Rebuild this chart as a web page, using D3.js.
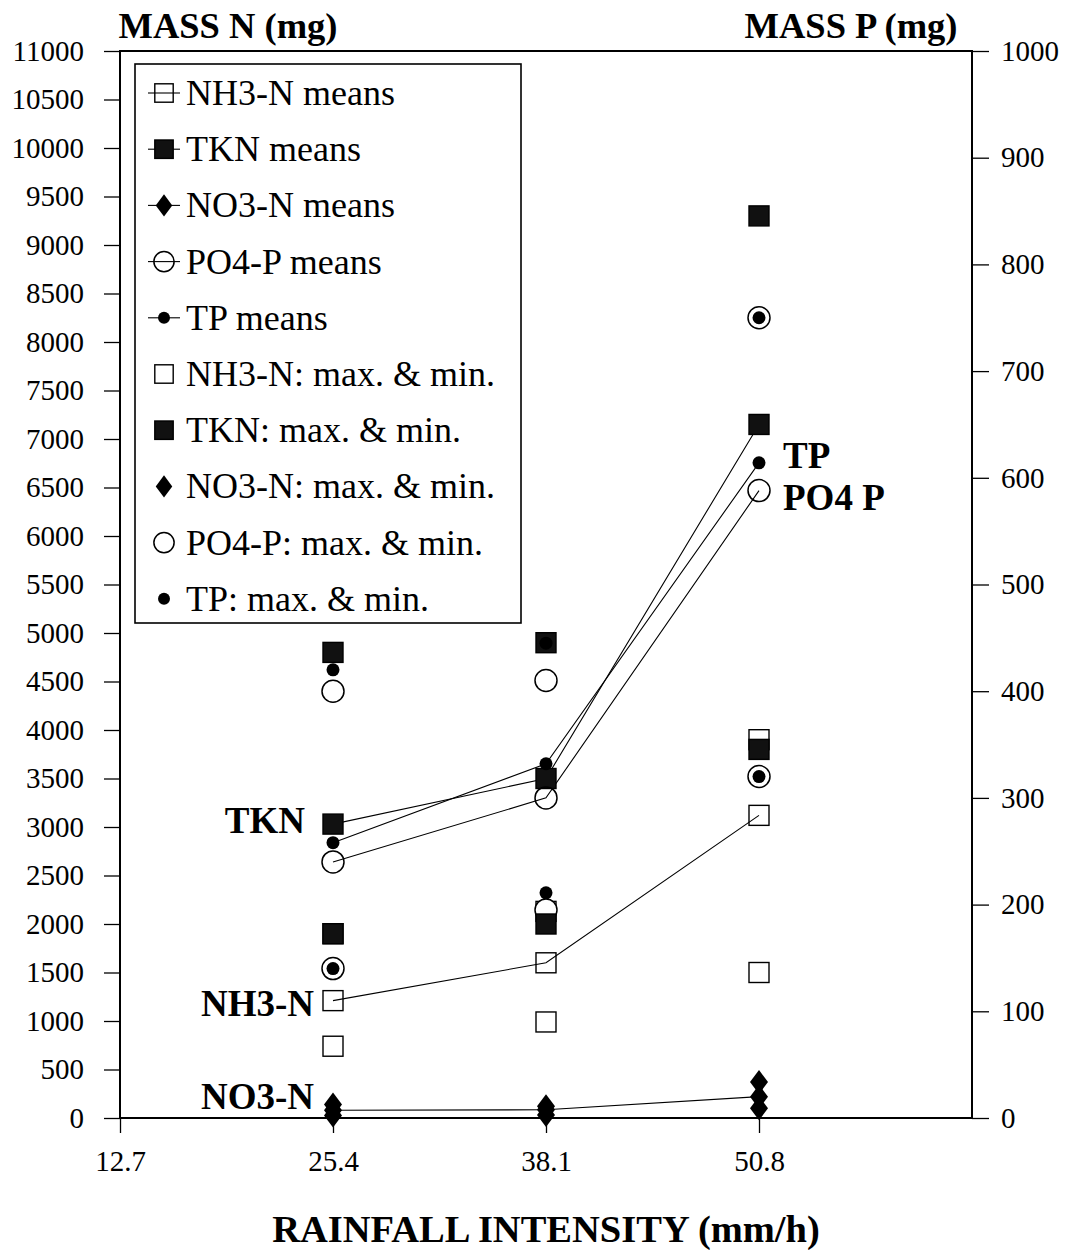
<!DOCTYPE html>
<html>
<head>
<meta charset="utf-8">
<script src="https://cdn.jsdelivr.net/npm/d3@7"></script>
<style>
  body { margin: 0; background: #fff; }
  svg { display: block; }
  text { font-family: "Liberation Serif", "Times New Roman", serif; fill: #000; }
</style>
</head>
<body>
<script>
// Rainfall intensities (mm/h) and axis ticks
const intensities = [25.4, 38.1, 50.8];
const xTicks = [12.7, 25.4, 38.1, 50.8];
const nTicks = d3.range(0, 11001, 500);
const pTicks = d3.range(0, 1001, 100);

// Nitrogen loads (mg), left axis
const nh3Mean = [1210, 1600, 3120];
const nh3Max  = [1900, 2130, 3900];
const nh3Min  = [740, 990, 1500];
const tknMean = [3030, 3500, 7150];
const tknMax  = [4800, 4900, 9300];
const tknMin  = [1900, 2000, 3800];
const no3Mean = [80, 85, 220];
const no3Max  = [140, 120, 370];
const no3Min  = [25, 30, 100];

// Phosphorus loads (mg), right axis
const po4Mean = [240, 300, 588];
const po4Max  = [400, 410, 750];
const po4Min  = [140, 195, 320];
const tpMean  = [258, 332, 614];
const tpMax   = [420, 445, 750];
const tpMin   = [140, 211, 320];

// Legend entries
const legendLabels = [
  "NH3-N means", "TKN means", "NO3-N means", "PO4-P means", "TP means",
  "NH3-N: max. & min.", "TKN: max. & min.", "NO3-N: max. & min.",
  "PO4-P: max. & min.", "TP: max. & min."
];
const legendShapes = ["sqOpen", "sqFill", "diamond", "circOpen", "dot",
                      "sqWhite", "sqFill", "diamond", "circWhite", "dot"];
const legendHasLine = [true, true, true, true, true, false, false, false, false, false];

const W = 1065, H = 1250;
const plotLeft = 120, plotRight = 972, plotTop = 51, plotBottom = 1118;

const svg = d3.select("body").append("svg").attr("width", W).attr("height", H);

const x = d3.scaleLinear().domain([12.7, 63.5]).range([plotLeft, plotRight]);
const yN = d3.scaleLinear().domain([0, 11000]).range([plotBottom, plotTop]);
const yP = d3.scaleLinear().domain([0, 1000]).range([plotBottom, plotTop]);

// Axes
const axisFont = "29px";
const gL = svg.append("g").attr("transform", `translate(${plotLeft},0)`)
  .call(d3.axisLeft(yN).tickValues(nTicks).tickFormat(d3.format("d"))
        .tickSize(16).tickPadding(20).tickSizeOuter(0));
const gR = svg.append("g").attr("transform", `translate(${plotRight},0)`)
  .call(d3.axisRight(yP).tickValues(pTicks).tickFormat(d3.format("d"))
        .tickSize(17).tickPadding(12).tickSizeOuter(0));
const gB = svg.append("g").attr("transform", `translate(0,${plotBottom})`)
  .call(d3.axisBottom(x).tickValues(xTicks).tickFormat(d3.format(".1f"))
        .tickSize(15).tickPadding(17).tickSizeOuter(0));
[gL, gR, gB].forEach(g => {
  g.select(".domain").remove();
  g.selectAll(".tick line").attr("stroke", "#000").attr("stroke-width", 1.3);
  g.selectAll(".tick text").style("font-size", axisFont)
    .style("font-family", "'Liberation Serif', serif").attr("fill", "#000");
});

// Plot frame
svg.append("rect").attr("x", plotLeft).attr("y", plotTop)
  .attr("width", plotRight - plotLeft).attr("height", plotBottom - plotTop)
  .attr("fill", "none").attr("stroke", "#000").attr("stroke-width", 2);

// Marker drawing
function marker(g, shape, cx, cy, scale = 1) {
  const s = 10 * scale;
  if (shape === "sqOpen" || shape === "sqWhite" || shape === "sqFill") {
    g.append("rect").attr("x", cx - s).attr("y", cy - s).attr("width", 2 * s).attr("height", 2 * s)
      .attr("fill", shape === "sqFill" ? "#111" : (shape === "sqWhite" ? "#fff" : "none"))
      .attr("stroke", "#000").attr("stroke-width", 1.4);
  } else if (shape === "circOpen" || shape === "circWhite") {
    g.append("circle").attr("cx", cx).attr("cy", cy).attr("r", 11 * scale)
      .attr("fill", shape === "circWhite" ? "#fff" : "none")
      .attr("stroke", "#000").attr("stroke-width", 1.5);
  } else if (shape === "dot") {
    g.append("circle").attr("cx", cx).attr("cy", cy).attr("r", 6.5 * scale).attr("fill", "#000");
  } else if (shape === "diamond") {
    const hw = 9 * scale, hh = 12 * scale;
    g.append("path")
      .attr("d", `M${cx},${cy - hh}L${cx + hw},${cy}L${cx},${cy + hh}L${cx - hw},${cy}Z`)
      .attr("fill", "#000");
  }
}

const plot = svg.append("g");

// Mean lines
const lineN = d3.line().x((d, i) => x(intensities[i])).y(d => yN(d));
const lineP = d3.line().x((d, i) => x(intensities[i])).y(d => yP(d));
[[nh3Mean, lineN], [tknMean, lineN], [no3Mean, lineN], [po4Mean, lineP], [tpMean, lineP]]
  .forEach(([vals, ln]) => {
    plot.append("path").datum(vals).attr("d", ln)
      .attr("fill", "none").attr("stroke", "#000").attr("stroke-width", 1.1);
  });

// Max & min markers
function drawSet(vals, scale, shape) {
  vals.forEach((v, i) => marker(plot, shape, x(intensities[i]), scale(v)));
}
[nh3Max, nh3Min].forEach(v => drawSet(v, yN, "sqWhite"));
[po4Max, po4Min].forEach(v => drawSet(v, yP, "circWhite"));
[tknMax, tknMin].forEach(v => drawSet(v, yN, "sqFill"));
[tpMax, tpMin].forEach(v => drawSet(v, yP, "dot"));
[no3Max, no3Min].forEach(v => drawSet(v, yN, "diamond"));

// Mean markers
drawSet(nh3Mean, yN, "sqOpen");
drawSet(tknMean, yN, "sqFill");
drawSet(no3Mean, yN, "diamond");
drawSet(po4Mean, yP, "circOpen");
drawSet(tpMean, yP, "dot");

// Series annotations
const ann = [
  { t: "TKN", x: 305, y: 833, a: "end" },
  { t: "NH3-N", x: 314, y: 1016, a: "end" },
  { t: "NO3-N", x: 314, y: 1109, a: "end" },
  { t: "TP", x: 783, y: 468, a: "start" },
  { t: "PO4 P", x: 783, y: 510, a: "start" }
];
svg.selectAll("text.ann").data(ann).join("text").attr("class", "ann")
  .attr("x", d => d.x).attr("y", d => d.y).attr("text-anchor", d => d.a)
  .style("font-size", "37px").style("font-weight", "bold").text(d => d.t);

// Axis titles
svg.append("text").attr("x", 228).attr("y", 38).attr("text-anchor", "middle")
  .style("font-size", "36.5px").style("font-weight", "bold").text("MASS N (mg)");
svg.append("text").attr("x", 851).attr("y", 38).attr("text-anchor", "middle")
  .style("font-size", "36.5px").style("font-weight", "bold").text("MASS P (mg)");
svg.append("text").attr("x", 546).attr("y", 1242).attr("text-anchor", "middle")
  .style("font-size", "38.5px").style("font-weight", "bold").text("RAINFALL INTENSITY (mm/h)");

// Legend
const lg = svg.append("g");
lg.append("rect").attr("x", 135).attr("y", 64).attr("width", 386).attr("height", 559)
  .attr("fill", "#fff").attr("stroke", "#000").attr("stroke-width", 1.6);
legendLabels.forEach((lab, i) => {
  const cy = 93 + i * 56.2;
  if (legendHasLine[i]) {
    lg.append("line").attr("x1", 148).attr("x2", 180).attr("y1", cy).attr("y2", cy)
      .attr("stroke", "#000").attr("stroke-width", 1.1);
  }
  marker(lg, legendShapes[i], 164, cy, 0.92);
  lg.append("text").attr("x", 186).attr("y", cy + 12)
    .style("font-size", "36px").text(lab);
});
</script>
</body>
</html>
